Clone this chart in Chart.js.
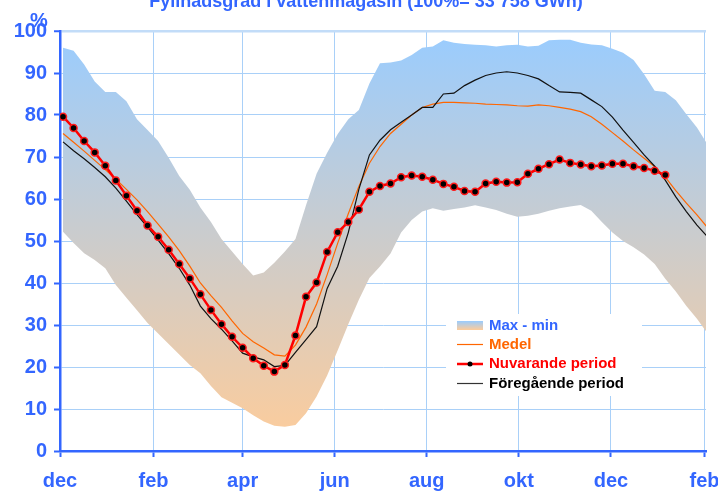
<!DOCTYPE html>
<html>
<head>
<meta charset="utf-8">
<script src="https://cdn.jsdelivr.net/npm/chart.js@4.4.0/dist/chart.umd.min.js"></script>
<style>
  html, body { margin: 0; padding: 0; background: #fff; }
  #wrap { width: 718px; height: 491px; }
</style>
</head>
<body>
<div id="wrap"><canvas id="magasin" width="718" height="491"></canvas></div>
<script>
// x-axeln: dagar räknat från 1 december
const manader = ['dec', 'feb', 'apr', 'jun', 'aug', 'okt', 'dec', 'feb'];
const manadDagar = [0, 62, 121, 182, 243, 304, 365, 427];
const yTicks = [0, 10, 20, 30, 40, 50, 60, 70, 80, 90, 100];

// veckovärden i procent
const nuvarande = [79.6, 76.9, 73.8, 71.1, 67.9, 64.4, 60.8, 57.2, 53.7, 51.0,
    47.9, 44.5, 41.1, 37.3, 33.6, 30.2, 27.2, 24.6, 22.1, 20.3,
    18.9, 20.5, 27.5, 36.7, 40.1, 47.4, 52.1, 54.5, 57.5, 61.7,
    63.1, 63.7, 65.2, 65.6, 65.3, 64.6, 63.6, 62.9, 61.9, 61.7,
    63.7, 64.1, 63.9, 64.0, 66.0, 67.2, 68.3, 69.4, 68.6, 68.2,
    67.8, 68.0, 68.4, 68.4, 67.8, 67.4, 66.7, 65.7];

const foregaende = [73.6, 71.5, 69.6, 67.5, 65.3, 62.6, 59.5, 56.3, 53.3, 50.2,
    47.0, 43.5, 39.5, 34.5, 31.5, 29.0, 26.2, 23.3, 22.4, 21.7,
    20.1, 20.4, 23.5, 26.5, 29.6, 38.7, 44.0, 52.0, 62.3, 70.5,
    74.0, 76.5, 78.3, 80.0, 81.8, 81.8, 85.0, 85.2, 87.0, 88.3,
    89.4, 90.0, 90.3, 90.0, 89.4, 88.6, 87.0, 85.5, 85.4, 85.2,
    83.6, 82.0, 79.5, 76.4, 73.5, 70.5, 67.8, 64.5, 60.5, 57.0,
    53.8, 51.0];

const medel = [75.6, 73.5, 71.4, 69.2, 67.0, 64.7, 62.3, 59.8, 57.0, 54.0,
    51.0, 47.7, 44.0, 40.0, 37.0, 34.2, 31.0, 28.0, 26.0, 24.5,
    22.9, 22.6, 25.2, 29.5, 35.0, 42.0, 49.5, 56.5, 63.0, 68.5,
    72.5, 75.6, 77.8, 80.0, 81.8, 82.6, 83.0, 83.0, 82.9, 82.8,
    82.6, 82.5, 82.4, 82.2, 82.1, 82.4, 82.2, 81.8, 81.4, 80.8,
    79.6, 77.8, 75.8, 73.8, 71.7, 69.7, 67.7, 65.2, 62.0, 59.0,
    56.2, 53.2];

const maxVarden = [96.0, 95.3, 92.0, 88.0, 85.5, 85.5, 83.3, 79.0, 76.4, 73.8,
    69.8, 65.5, 62.2, 58.0, 54.5, 50.5, 47.5, 44.5, 41.8, 42.5,
    44.8, 47.5, 50.5, 58.5, 66.0, 71.0, 75.5, 79.0, 81.2, 87.5,
    92.3, 92.5, 93.0, 94.3, 96.0, 96.3, 97.8, 97.2, 96.9, 96.7,
    96.6, 96.3, 96.6, 96.7, 96.3, 96.5, 97.8, 97.9, 97.9, 97.2,
    96.8, 96.6, 95.8, 94.8, 93.1, 89.7, 85.8, 85.5, 83.5, 80.2,
    77.0, 73.0];

const minVarden = [52.2, 49.5, 47.1, 45.5, 43.5, 39.5, 36.5, 33.5, 30.5, 28.0,
    25.5, 23.0, 20.5, 18.5, 15.5, 12.8, 11.5, 10.2, 8.5, 7.0,
    6.0, 5.8, 6.2, 9.0, 13.0, 18.0, 24.0, 30.2, 36.0, 41.2,
    43.9, 47.0, 52.0, 55.0, 57.0, 57.8, 57.2, 57.6, 58.0, 58.5,
    58.0, 57.4, 56.5, 55.8, 56.0, 56.5, 57.2, 57.8, 58.2, 58.6,
    57.2, 54.5, 52.0, 50.0, 48.5, 46.8, 44.5, 41.0, 38.0, 34.5,
    31.5, 28.0];

const rubrik = 'Fyllnadsgrad i vattenmagasin (100%= 33 758 GWh)';

const BLA = '#3366ff';
const GRID = '#a9d0f8';

// veckornas placering (dag från 1 dec)
function punkter(varden) {
    return varden.map((v, i) => ({ x: 2 + 7 * i, y: v }));
}

function bandGradient(ctx, top, bottom) {
    const g = ctx.createLinearGradient(0, top, 0, bottom);
    g.addColorStop(0, '#99ccff');
    g.addColorStop(1, '#ffcc99');
    return g;
}

// rubrik, %-tecken och legend ritas för hand
const extraText = {
    id: 'extraText',
    afterDraw(chart) {
        const ctx = chart.ctx;
        ctx.save();
        ctx.fillStyle = BLA;
        ctx.font = 'bold 18px "Liberation Sans", Arial, sans-serif';
        ctx.textAlign = 'center';
        ctx.textBaseline = 'alphabetic';
        ctx.fillText(rubrik, 366, 7);

        ctx.font = 'bold 20px "Liberation Sans", Arial, sans-serif';
        ctx.fillText('%', 39, 27);
        ctx.restore();
    },
    afterDatasetsDraw(chart) {
        const ctx = chart.ctx;
        ctx.save();
        ctx.fillStyle = '#fff';
        ctx.fillRect(446, 314, 196, 82);

        const x0 = 457, x1 = 483, tx = 489;
        // Max - min
        ctx.fillStyle = bandGradient(ctx, 321, 330);
        ctx.fillRect(x0, 321, x1 - x0, 9);
        // Medel
        ctx.strokeStyle = '#ff6600';
        ctx.lineWidth = 1.2;
        ctx.beginPath(); ctx.moveTo(x0, 344.5); ctx.lineTo(x1, 344.5); ctx.stroke();
        // Nuvarande
        ctx.strokeStyle = '#ff0000';
        ctx.lineWidth = 2.5;
        ctx.beginPath(); ctx.moveTo(x0, 364); ctx.lineTo(x1, 364); ctx.stroke();
        ctx.fillStyle = '#000';
        ctx.beginPath(); ctx.arc(470, 364, 2.5, 0, Math.PI * 2); ctx.fill();
        // Föregående
        ctx.strokeStyle = '#333';
        ctx.lineWidth = 1.2;
        ctx.beginPath(); ctx.moveTo(x0, 383.5); ctx.lineTo(x1, 383.5); ctx.stroke();

        ctx.font = 'bold 15px "Liberation Sans", Arial, sans-serif';
        ctx.textAlign = 'left';
        ctx.textBaseline = 'middle';
        ctx.fillStyle = BLA; ctx.fillText('Max - min', tx, 326);
        ctx.fillStyle = '#ff6600'; ctx.fillText('Medel', tx, 345);
        ctx.fillStyle = '#ff0000'; ctx.fillText('Nuvarande period', tx, 364);
        ctx.fillStyle = '#000'; ctx.fillText('Föregående period', tx, 384);
        ctx.restore();
    }
};

const ctx = document.getElementById('magasin').getContext('2d');
new Chart(ctx, {
    type: 'line',
    data: {
        datasets: [
            {
                label: 'Nuvarande period',
                data: punkter(nuvarande),
                borderColor: '#ff0000',
                borderWidth: 2.5,
                pointRadius: 3.5,
                pointBackgroundColor: '#000',
                pointBorderColor: '#ff1a1a',
                pointBorderWidth: 1.5,
                fill: false
            },
            {
                label: 'Föregående period',
                data: punkter(foregaende),
                borderColor: '#111',
                borderWidth: 1.2,
                pointRadius: 0,
                fill: false
            },
            {
                label: 'Medel',
                data: punkter(medel),
                borderColor: '#ff6600',
                borderWidth: 1.2,
                pointRadius: 0,
                fill: false
            },
            {
                label: 'Max - min',
                data: punkter(maxVarden),
                borderWidth: 0,
                borderColor: 'rgba(0,0,0,0)',
                pointRadius: 0,
                fill: '+1',
                backgroundColor: (c) => {
                    const a = c.chart.chartArea;
                    if (!a) return '#cccccc';
                    return bandGradient(c.chart.ctx, a.top, a.bottom);
                }
            },
            {
                label: 'min',
                data: punkter(minVarden),
                borderWidth: 0,
                borderColor: 'rgba(0,0,0,0)',
                pointRadius: 0,
                fill: false
            }
        ]
    },
    options: {
        responsive: false,
        animation: false,
        layout: { padding: { top: 31, right: 12, left: 0, bottom: 0 } },
        elements: { line: { tension: 0 } },
        plugins: {
            legend: { display: false },
            tooltip: { enabled: false },
            title: { display: false },
            filler: { drawTime: 'beforeDatasetsDraw' }
        },
        scales: {
            x: {
                type: 'linear',
                min: 0,
                max: 428,
                afterBuildTicks: (scale) => {
                    scale.ticks = manadDagar.map(v => ({ value: v }));
                },
                afterFit: (scale) => {
                    scale.height = 40;
                    scale.paddingLeft = 0;
                    scale.paddingRight = 0;
                },
                ticks: {
                    autoSkip: false,
                    maxRotation: 0,
                    padding: 12,
                    color: BLA,
                    font: { family: '"Liberation Sans", Arial, sans-serif', size: 20, weight: 'bold' },
                    callback: (v, i) => manader[i]
                },
                grid: {
                    color: GRID,
                    lineWidth: 1,
                    tickLength: 6,
                    tickColor: BLA,
                    tickWidth: 2
                },
                border: { color: BLA, width: 2.5 }
            },
            y: {
                min: 0,
                max: 100,
                afterBuildTicks: (scale) => {
                    scale.ticks = yTicks.map(v => ({ value: v }));
                },
                afterFit: (scale) => { scale.width = 60; },
                ticks: {
                    padding: 7,
                    color: BLA,
                    font: { family: '"Liberation Sans", Arial, sans-serif', size: 20, weight: 'bold' }
                },
                grid: {
                    color: (c) => c.tick && c.tick.value === 100 ? '#c2dcf8' : GRID,
                    lineWidth: (c) => c.tick && c.tick.value === 100 ? 2.5 : 1,
                    tickLength: 6,
                    tickColor: BLA,
                    tickWidth: 2
                },
                border: { color: BLA, width: 2.5 }
            }
        }
    },
    plugins: [extraText]
});
</script>
</body>
</html>
